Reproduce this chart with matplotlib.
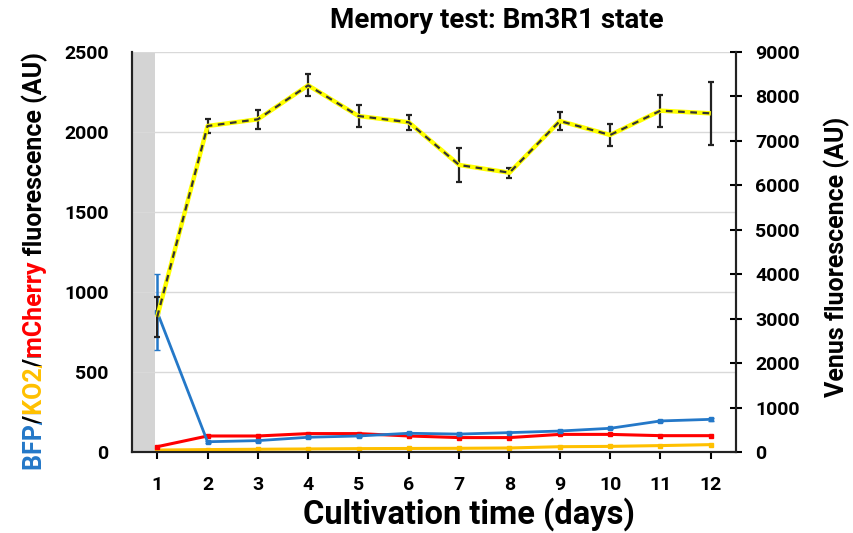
import matplotlib
matplotlib.use("Agg")
from matplotlib import pyplot as plt
from matplotlib.font_manager import FontProperties
from matplotlib.transforms import Bbox
import numpy as np

plt.rcParams['font.family'] = ['Roboto', 'DejaVu Sans']
plt.rcParams['font.weight'] = 'bold'

days = np.arange(1, 13)

# BFP / KO2 / mCherry on left axis (AU)
bfp = [875, 64, 71, 92, 100, 117, 112, 121, 131, 148, 194, 204]
bfp_err = [235, 6, 6, 5, 5, 5, 5, 5, 5, 5, 8, 10]
ko2 = [12, 15, 17, 19, 21, 22, 23, 25, 33, 35, 40, 46]
mcherry = [33, 100, 100, 115, 115, 100, 90, 90, 110, 110, 102, 102]

# Venus on right axis (AU)
venus = [3040, 7335, 7486, 8250, 7560, 7418, 6458, 6285, 7448, 7133, 7680, 7620]
venus_err = [450, 157, 210, 248, 250, 172, 375, 112, 206, 255, 364, 705]

c_blue = '#2478C8'
c_orange = '#FFC000'
c_red = '#FF0000'

fig = plt.figure(figsize=(8.54, 5.33), dpi=100)
ax = fig.add_axes([0.1546, 0.152, 0.7072, 0.7504])
ax2 = ax.twinx()

ax.axvspan(0.5, 0.95, color='#D4D4D4', lw=0, zorder=0)

ax.plot(days, ko2, color=c_orange, lw=2.2, marker='s', ms=2.5, zorder=3)
ax.plot(days, mcherry, color=c_red, lw=2.2, marker='s', ms=2.5, zorder=3)
ax.errorbar(days, bfp, yerr=bfp_err, color=c_blue, lw=2.0, marker='s', ms=2.5,
            capsize=2, elinewidth=1.8, zorder=4)

ax.set_xlim(0.5, 12.5)
ax.set_ylim(0, 2500)
ax.set_yticks(np.arange(0, 2501, 500))
ax.set_xticks(days)
ax.grid(axis='y', color='#D9D9D9', lw=1)
ax.set_axisbelow(True)
ax.tick_params(axis='y', length=0, pad=17, labelsize=14)
ax.tick_params(axis='x', direction='out', length=5, width=1.5, pad=12, labelsize=14)

# Venus: yellow line with dashed black overlay
ax2.errorbar(days, venus, yerr=venus_err, fmt='none', ecolor='#222222',
             elinewidth=1.6, capsize=2.5, capthick=1.6, zorder=5)
ax2.plot(days, venus, color='#FFFF00', lw=3.2, zorder=6, solid_capstyle='butt')
ax2.plot(days, venus, color='#333333', lw=1.6, ls=(0, (3, 2.5)), zorder=7)
ax2.set_ylim(0, 9000)
ax2.set_yticks(np.arange(0, 9001, 1000))
ax2.tick_params(axis='y', direction='inout', length=8, width=1.5, pad=10, labelsize=14)

for a in (ax, ax2):
    a.spines['top'].set_visible(False)
    for s in ('left', 'right', 'bottom'):
        a.spines[s].set_linewidth(1.5)
        a.spines[s].set_color('#222222')

fig.text(497 / 854, 1 - 21 / 533, 'Memory test: Bm3R1 state', ha='center', va='center',
         fontsize=20, fontweight='bold')
fig.text(469 / 854, 1 - 514 / 533, 'Cultivation time (days)', ha='center', va='center',
         fontsize=23.5, fontweight='bold')
fig.text(837 / 854, 1 - 257 / 533, 'Venus fluorescence (AU)', rotation=90,
         ha='center', va='center', fontsize=18, fontweight='bold')

# multi-coloured left axis label: the whole string drawn once per colour,
# each copy clipped to the stretch of its own piece
pieces = [('BFP', c_blue), ('/', 'black'), ('KO2', c_orange), ('/', 'black'),
          ('mCherry', c_red), (' fluorescence (AU)', 'black')]
full = ''.join(p[0] for p in pieces)
fig.canvas.draw()
renderer = fig.canvas.get_renderer()
fsize = 18
fp = FontProperties(family=['Roboto', 'DejaVu Sans'], weight='bold', size=fsize)


def text_width(s):
    return renderer.get_text_width_height_descent(s, fp, ismath=False)[0] if s else 0


xb, yb = 42, 533 - 470
edges = [-10]
prefix = ''
for txt, _ in pieces[:-1]:
    prefix += txt
    edges.append(text_width(prefix) + 1)
edges.append(1000)
for i, (txt, col) in enumerate(pieces):
    t = fig.text(xb, yb, full, rotation=90, rotation_mode='anchor', ha='left',
                 va='baseline', color=col, fontsize=fsize, fontweight='bold',
                 transform=None)
    t.set_clip_box(Bbox([[xb - 30, yb + edges[i]], [xb + 30, yb + edges[i + 1]]]))
    t.set_clip_on(True)

fig.savefig('out.png', dpi=100)
